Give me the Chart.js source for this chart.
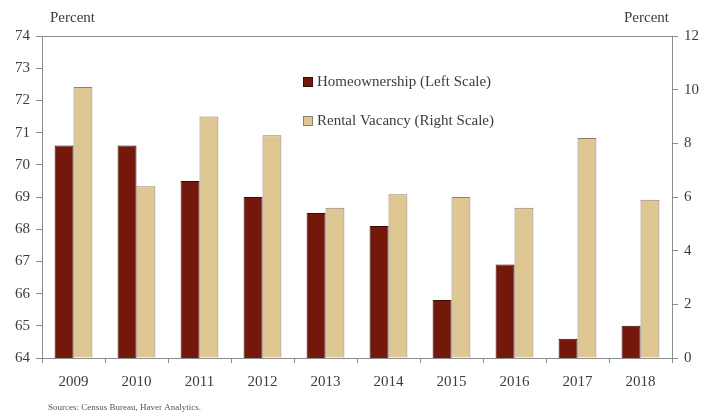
<!DOCTYPE html>
<html>
<head>
<meta charset="utf-8">
<script src="https://cdn.jsdelivr.net/npm/chart.js@4/dist/chart.umd.min.js"></script>
<style>
  html, body { margin: 0; padding: 0; background: #ffffff; }
  #wrap { width: 708px; height: 418px; position: relative; }
</style>
</head>
<body>
<div id="wrap"><canvas id="grafico"></canvas></div>
<script>
// anos e series (esquerda: casa propria, direita: vacancia de aluguel)
const anos = ['2009', '2010', '2011', '2012', '2013', '2014', '2015', '2016', '2017', '2018'];
const casaPropria = [70.6, 70.6, 69.5, 69.0, 68.5, 68.1, 65.8, 66.9, 64.6, 65.0];
const vacanciaAluguel = [10.1, 6.4, 9.0, 8.3, 5.6, 6.1, 6.0, 5.6, 8.2, 5.9];
const nomesSeries = ['Homeownership (Left Scale)', 'Rental Vacancy (Right Scale)'];
const fonte = 'Sources: Census Bureau, Haver Analytics.';

const corEscura = '#74180c';
const corClara = '#dfc793';
const corEixo = '#8c8c8c';
const corTexto = '#3c3c3c';
const serifa = '"Liberation Serif", "DejaVu Serif", serif';

// textos fora dos eixos + legenda dentro da area
const extras = {
    id: 'extras',
    afterDraw(chart) {
        const ctx = chart.ctx;
        const area = chart.chartArea;
        ctx.save();

        // linha no topo da area
        ctx.strokeStyle = corEixo;
        ctx.lineWidth = 1;
        ctx.beginPath();
        ctx.moveTo(area.left, area.top + 0.5);
        ctx.lineTo(area.right, area.top + 0.5);
        ctx.stroke();

        ctx.fillStyle = corTexto;
        ctx.font = '15px ' + serifa;
        ctx.textBaseline = 'middle';
        ctx.textAlign = 'left';
        ctx.fillText('Percent', 50, 18);
        ctx.textAlign = 'right';
        ctx.fillText('Percent', 669, 18);

        // legenda
        let cores = [corEscura, corClara];
        let bordas = ['#3a0a05', '#8a8070'];
        for (let i = 0; i < nomesSeries.length; i++) {
            let y = 82 + i * 39;
            ctx.fillStyle = cores[i];
            ctx.fillRect(303, y - 5, 10, 10);
            ctx.strokeStyle = bordas[i];
            ctx.strokeRect(303.5, y - 4.5, 9, 9);
            ctx.fillStyle = corTexto;
            ctx.textAlign = 'left';
            ctx.fillText(nomesSeries[i], 317, y);
        }

        ctx.font = '9px ' + serifa;
        ctx.fillStyle = '#555555';
        ctx.fillText(fonte, 48, 408);
        ctx.restore();
    }
};

const config = {
    type: 'bar',
    data: {
        labels: anos,
        datasets: [{
            label: nomesSeries[0],
            data: casaPropria,
            yAxisID: 'y',
            backgroundColor: corEscura,
            borderColor: '#3a0a05',
            borderWidth: 1,
            categoryPercentage: 0.6,
            barPercentage: 1.0
        }, {
            label: nomesSeries[1],
            data: vacanciaAluguel,
            yAxisID: 'y2',
            backgroundColor: corClara,
            borderColor: '#8a8070',
            borderWidth: 1,
            categoryPercentage: 0.6,
            barPercentage: 1.0
        }]
    },
    options: {
        responsive: false,
        animation: false,
        layout: { padding: { top: 36, left: 0, right: 0, bottom: 0 } },
        plugins: {
            legend: { display: false },
            tooltip: { enabled: false }
        },
        scales: {
            x: {
                grid: { display: true, drawOnChartArea: false, tickLength: 5, color: corEixo, offset: true },
                border: { display: true, color: corEixo },
                ticks: { color: corTexto, font: { family: serifa, size: 15 }, padding: 10, maxRotation: 0 },
                afterFit(escala) { escala.height = 60; }
            },
            y: {
                position: 'left',
                min: 64,
                max: 74,
                ticks: { stepSize: 1, color: corTexto, font: { family: serifa, size: 15 }, padding: 6 },
                grid: { display: true, drawOnChartArea: false, tickLength: 6, color: corEixo },
                border: { display: true, color: corEixo },
                afterFit(escala) { escala.width = 42; }
            },
            y2: {
                position: 'right',
                min: 0,
                max: 12,
                ticks: { stepSize: 2, color: corTexto, font: { family: serifa, size: 15 }, padding: 6 },
                grid: { display: true, drawOnChartArea: false, tickLength: 6, color: corEixo },
                border: { display: true, color: corEixo },
                afterFit(escala) { escala.width = 36; }
            }
        }
    },
    plugins: [extras]
};

const canvas = document.getElementById('grafico');
canvas.width = 708;
canvas.height = 418;
new Chart(canvas, config);
</script>
</body>
</html>
